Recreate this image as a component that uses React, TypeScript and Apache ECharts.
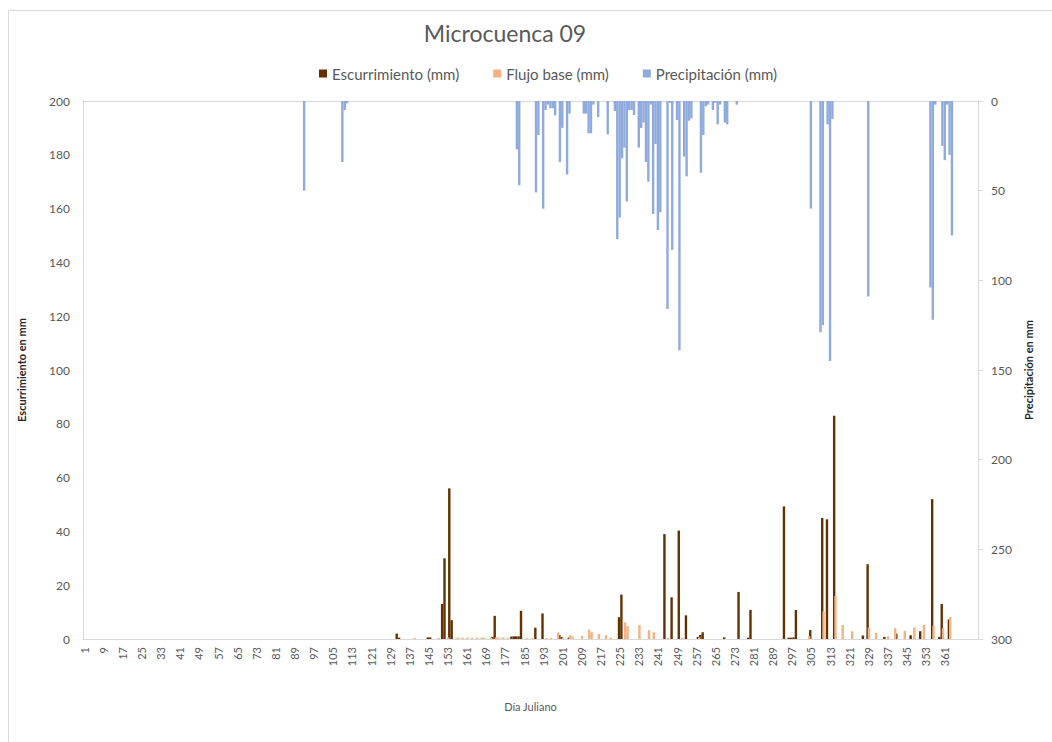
import React, { useEffect, useRef } from "react";
import * as echarts from "echarts";

// Julian-day tick labels shown on the horizontal axis
const xTickLabels = [
  1, 9, 17, 25, 33, 41, 49, 57, 65, 73, 81, 89, 97, 105, 113, 121, 129, 137, 145, 153,
  161, 169, 177, 185, 193, 201, 209, 217, 225, 233, 241, 249, 257, 265, 273, 281, 289,
  297, 305, 313, 321, 329, 337, 345, 353, 361,
];

// Escurrimiento (mm)
const runoffDays = [
  132, 133, 145, 146, 151, 152, 154, 155, 172, 173, 180, 181, 182, 183, 184, 190, 193, 200,
  201, 204, 225, 226, 228, 244, 247, 250, 253, 258, 259, 260, 269, 275, 279, 280, 294, 296,
  297, 298, 299, 305, 310, 312, 315, 327, 329, 336, 341, 347, 351, 356, 359, 360, 363,
];
const runoffMm = [
  2.0, 0.5, 0.6, 0.6, 13, 30, 56, 7, 0.8, 8.6, 0.9, 1.0, 1.0, 1.0, 10.5, 4.2, 9.5, 1.5,
  0.8, 0.5, 8.1, 16.5, 0.3, 39, 15.5, 40.3, 8.8, 0.8, 1.5, 2.5, 0.6, 17.5, 0.5, 10.8, 49.3, 0.5,
  0.5, 0.6, 10.8, 3.3, 45, 44.5, 83, 1.3, 27.8, 0.8, 2.0, 1.4, 2.9, 52, 0.8, 13, 7.3,
];

// Flujo base (mm)
const baseflowDays = [
  139, 149, 153, 157, 159, 161, 163, 165, 167, 168, 171, 173, 174, 176, 178, 186, 188, 194,
  196, 199, 201, 204, 205, 209, 212, 213, 216, 219, 221, 227, 228, 233, 237, 239, 245, 251,
  258, 304, 310, 315, 318, 322, 329, 332, 337, 340, 344, 348, 352, 356, 360, 363,
];
const baseflowMm = [
  0.4, 0.4, 0.6, 0.5, 0.4, 0.5, 0.5, 0.5, 0.5, 0.4, 0.5, 0.6, 0.5, 0.5, 0.3, 0.3, 0.3, 0.3,
  0.4, 2.5, 0.6, 1.5, 1.0, 1.2, 3.5, 2.5, 1.9, 1.4, 0.5, 6.2, 4.8, 5.2, 3.3, 2.5, 0.5, 0.5,
  0.6, 1.1, 10.2, 16, 5.2, 2.9, 4.3, 2.3, 1.0, 4.0, 3.0, 4.3, 5.3, 4.8, 4.0, 8.2,
];

// Precipitación (mm)
const rainDays = [
  93, 109, 110, 111, 182, 183, 190, 191, 193, 194, 195, 196, 197, 198, 200, 201, 203, 204,
  210, 211, 212, 213, 214, 216, 220, 223, 224, 225, 226, 227, 228, 229, 230, 231, 233, 234,
  235, 236, 237, 238, 239, 240, 241, 242, 245, 246, 247, 249, 250, 252, 253, 254, 255, 259,
  260, 261, 262, 264, 265, 266, 267, 269, 270, 274, 305, 309, 310, 312, 313, 314, 329, 355,
  356, 357, 360, 361, 362, 363, 364,
];
const rainMm = [
  50, 34, 5, 1.3, 27, 47, 51, 19, 60, 5, 2, 4, 4, 8, 34, 15, 41, 7,
  7, 7, 18, 18, 2, 9, 18.6, 5.6, 77, 65, 32, 26, 56, 5, 5, 7.8, 26, 15,
  12, 34, 45, 2, 63, 24, 72, 62, 116, 1, 83, 10.6, 139, 31, 42, 11, 9.7, 40,
  19, 3, 2, 5, 1, 13, 2, 12, 13, 2, 60, 129, 125, 13, 145, 10, 109, 104,
  122, 2, 25, 33, 2, 30, 75,
];

const seriesNames = ["Escurrimiento (mm)", "Flujo base (mm)", "Precipitación (mm)"];

export default function App() {
  const ref = useRef<HTMLDivElement>(null);

  useEffect(() => {
    if (!ref.current) return;
    const chart = echarts.init(ref.current, null, { renderer: "svg" });
    const zip = (d: number[], v: number[]) => d.map((x, i) => [x, v[i]]);
    const font = 'Lato, "Noto Sans", "DejaVu Sans", sans-serif';
    const axisColor = "#d9d9d9";
    const labelColor = "#595959";

    chart.setOption({
      animation: false,
      backgroundColor: "#ffffff",
      textStyle: { fontFamily: font },
      graphic: [
        {
          type: "rect",
          shape: { x: 8.5, y: 10.5, width: 1100, height: 800 },
          style: { fill: "none", stroke: "#d9d9d9", lineWidth: 1 },
          silent: true,
        },
      ],
      title: {
        text: "Microcuenca 09",
        left: 500,
        top: 16,
        textAlign: "center",
        textStyle: { fontSize: 23, fontWeight: "normal", color: labelColor, fontFamily: font },
      },
      legend: {
        data: seriesNames,
        left: 314,
        top: 61,
        icon: "rect",
        itemWidth: 8,
        itemHeight: 8,
        itemGap: 34,
        textStyle: { fontSize: 15, color: labelColor, fontFamily: font },
      },
      grid: { left: 83, top: 101, right: 74, bottom: 103 },
      xAxis: [
        {
          type: "value",
          min: 0.5,
          max: 374.9,
          position: "bottom",
          axisLine: { show: true, onZero: false, lineStyle: { color: axisColor } },
          axisTick: { show: false },
          splitLine: { show: false },
          axisLabel: {
            customValues: xTickLabels,
            rotate: 90,
            fontSize: 11,
            color: labelColor,
            margin: 8,
            fontFamily: font,
          },
          name: "Día Juliano",
          nameLocation: "middle",
          nameGap: 62,
          nameTextStyle: { fontSize: 11, color: labelColor, fontFamily: font },
        },
        {
          type: "value",
          min: 0.5,
          max: 374.9,
          position: "top",
          axisLine: { show: true, onZero: false, lineStyle: { color: axisColor } },
          axisTick: { show: false },
          axisLabel: { show: false },
          splitLine: { show: false },
        },
      ],
      yAxis: [
        {
          type: "value",
          min: 0,
          max: 200,
          interval: 20,
          position: "left",
          axisLine: { show: true, onZero: false, lineStyle: { color: axisColor } },
          axisTick: { show: false },
          splitLine: { show: false },
          axisLabel: { fontSize: 12, color: labelColor, margin: 13, fontFamily: font },
          name: "Escurrimiento en mm",
          nameLocation: "middle",
          nameRotate: 90,
          nameGap: 56,
          nameTextStyle: { fontSize: 11, fontWeight: "bold", color: "#262626", fontFamily: font },
        },
        {
          type: "value",
          min: 0,
          max: 300,
          interval: 50,
          inverse: true,
          position: "right",
          axisLine: { show: true, onZero: false, lineStyle: { color: axisColor } },
          axisTick: { show: true, length: 5, lineStyle: { color: axisColor } },
          splitLine: { show: false },
          axisLabel: { fontSize: 12, color: labelColor, margin: 13, fontFamily: font },
          name: "Precipitación en mm",
          nameLocation: "middle",
          nameRotate: 90,
          nameGap: 38,
          nameTextStyle: { fontSize: 11, fontWeight: "bold", color: "#262626", fontFamily: font },
        },
      ],
      series: [
        {
          name: seriesNames[0],
          type: "bar",
          xAxisIndex: 0,
          yAxisIndex: 0,
          data: zip(runoffDays, runoffMm),
          barWidth: 2.4,
          barGap: "-45%",
          itemStyle: { color: "#633100" },
        },
        {
          name: seriesNames[1],
          type: "bar",
          xAxisIndex: 0,
          yAxisIndex: 0,
          data: zip(baseflowDays, baseflowMm),
          barWidth: 2.4,
          barGap: "-45%",
          itemStyle: { color: "#F4B183" },
        },
        {
          name: seriesNames[2],
          type: "bar",
          xAxisIndex: 1,
          yAxisIndex: 1,
          data: zip(rainDays, rainMm),
          barWidth: 2.4,
          itemStyle: { color: "#8FAADC" },
        },
      ],
    });

    return () => chart.dispose();
  }, []);

  return (
    <div
      ref={ref}
      style={{ position: "fixed", left: 0, top: 0, width: 1052, height: 742, background: "#fff" }}
    />
  );
}
